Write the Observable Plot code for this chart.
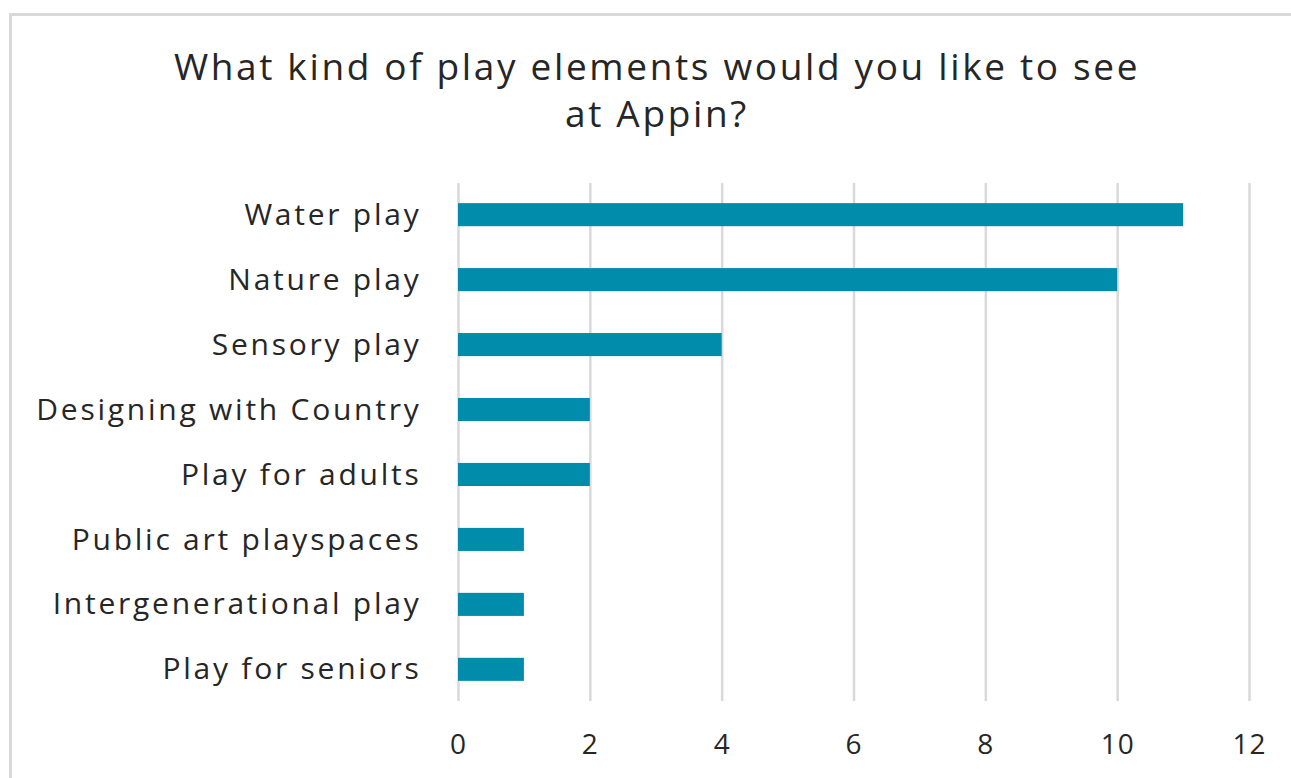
<!DOCTYPE html>
<html>
<head>
<meta charset="utf-8">
<script src="https://cdn.jsdelivr.net/npm/d3@7"></script>
<script src="https://cdn.jsdelivr.net/npm/@observablehq/plot@0.6"></script>
<style>
  html, body { margin: 0; padding: 0; background: #fff; width: 1291px; height: 778px; overflow: hidden; }
  #frame { position: absolute; left: 9px; top: 13px; width: 1400px; height: 900px; border: 3px solid #d9d9d9; box-sizing: border-box; }
  #title { position: absolute; left: 0; width: 1314px; top: 42px; text-align: center; font-family: "Open Sans", sans-serif; font-size: 37px; line-height: 47px; color: #262626; letter-spacing: 2.65px; }
  #chart { position: absolute; left: 0; top: 0; }
  #chart svg g[aria-label="y-axis tick label"] text { letter-spacing: 2.75px; }
  #chart svg g[aria-label="x-axis tick label"] text { letter-spacing: 1px; }
</style>
</head>
<body>
<div id="frame"></div>
<div id="title">What kind of play elements would you like to see<br>at Appin?</div>
<div id="chart"></div>
<script>
const categories = ["Water play", "Nature play", "Sensory play", "Designing with Country", "Play for adults", "Public art playspaces", "Intergenerational play", "Play for seniors"];
const counts = [11, 10, 4, 2, 2, 1, 1, 1];
const xTicks = [0, 2, 4, 6, 8, 10, 12];

const data = categories.map((c, i) => ({category: c, count: counts[i]}));

const plot = Plot.plot({
  width: 1291,
  height: 778,
  marginLeft: 458,
  marginRight: 42,
  marginTop: 183,
  marginBottom: 77,
  style: {fontFamily: "Open Sans, sans-serif", fontSize: "30px", color: "#262626", background: "transparent", overflow: "visible"},
  x: {domain: [0, 12], ticks: xTicks, label: null},
  y: {domain: categories, label: null, paddingInner: 0.645, paddingOuter: 0.31, round: false},
  marks: [
    Plot.gridX(xTicks, {stroke: "#d9d9d9", strokeWidth: 2.5, strokeOpacity: 1}),
    Plot.barX(data, {x: "count", y: "category", fill: "#008caa"}),
    Plot.axisX(xTicks, {tickSize: 0, tickPadding: 33, fontSize: 28, fill: "#262626"}),
    Plot.axisY({tickSize: 0, tickPadding: 37, fontSize: 30, fill: "#262626"})
  ]
});
document.getElementById("chart").appendChild(plot);
</script>
</body>
</html>
